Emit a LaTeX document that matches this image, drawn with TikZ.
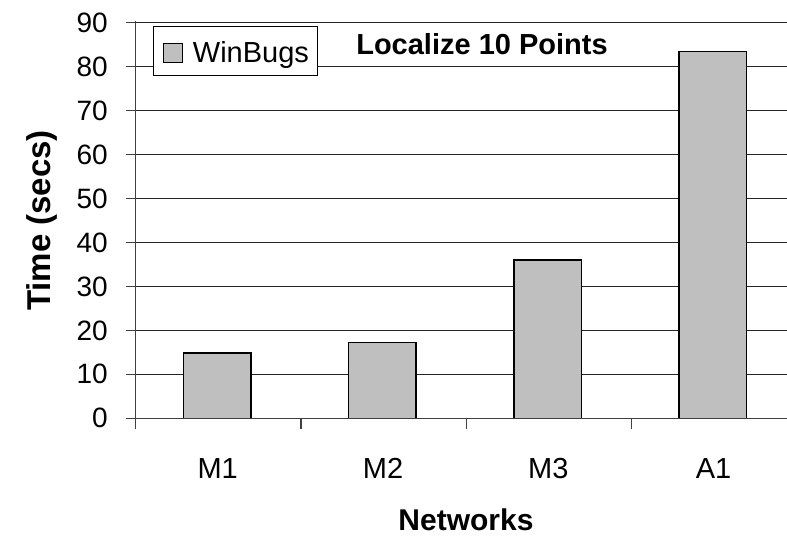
\documentclass[tikz,border=0pt]{standalone}
\usepackage{fontspec}
\setmainfont{Liberation Sans}

\begin{document}
\begin{tikzpicture}[x=1pt,y=-1pt,
  bar/.style={draw=black,line width=1.6pt,fill=black!25},
  gridline/.style={line width=1pt,black!85},
  axisline/.style={line width=1.2pt,black!75},
  ticklab/.style={anchor=east,inner sep=0pt,font=\fontsize{28}{30}\selectfont},
  catlab/.style={anchor=base,inner sep=0pt,font=\fontsize{29}{31}\selectfont},
  axislab/.style={anchor=base,inner sep=0pt,font=\bfseries\fontsize{30}{32}\selectfont}]
\useasboundingbox (0,0) rectangle (787,537);
% ---------- 网格线 (10 s 一格) ----------
\foreach \k in {1,...,9}
  \draw[gridline] (135.7,{418.3-43.96*\k}) -- (787,{418.3-43.96*\k});
% ---------- 柱 ----------
\foreach \i/\t/\v in {0/M1/14.8,1/M2/17.2,2/M3/36.0,3/A1/83.4} {
  \draw[bar] ({135.7+165.3*\i+47.6},418.3) rectangle ({135.7+165.3*\i+115},{418.3-4.396*\v});
  \node[catlab] (cat\t) at ({135.7+165.3*\i+82},478) {\t};
}
% ---------- 坐标轴 ----------
\draw[axisline] (135.7,20.9) -- (135.7,429);
\draw[axisline] (135.7,418.3) -- (787,418.3);
\foreach \k in {0,...,9} {
  \pgfmathtruncatemacro\v{10*\k}
  \draw[axisline] (126,{418.3-43.96*\k}) -- (135.7,{418.3-43.96*\k});
  \node[ticklab] (ytick\k) at (108,{418.3-43.96*\k}) {\v};
}
\foreach \x in {301,466.3,631.7}
  \draw[axisline] (\x,418.3) -- (\x,429);
% ---------- 轴标题 ----------
\node[axislab,rotate=90,font=\bfseries\fontsize{33}{35}\selectfont] (ylab) at (50,220.5) {Time (secs)};
\node[axislab] (xlab) at (466,530) {Networks};
% ---------- 图例与标题 ----------
\node[draw,fill=white,line width=0.8pt,minimum width=164.4pt,minimum height=48.6pt,inner sep=0pt] (legend) at (235.5,51) {};
\node[draw,fill=black!25,line width=0.9pt,minimum size=19.4pt,inner sep=0pt] (legkey) at (173,53) {};
\node[anchor=base west,inner sep=0pt,font=\fontsize{29}{31}\selectfont] (legtext) at (192.7,63) {WinBugs};
\node[axislab,font=\bfseries\fontsize{29}{31}\selectfont] (title) at (482,55) {Localize 10 Points};
\end{tikzpicture}
\end{document}
